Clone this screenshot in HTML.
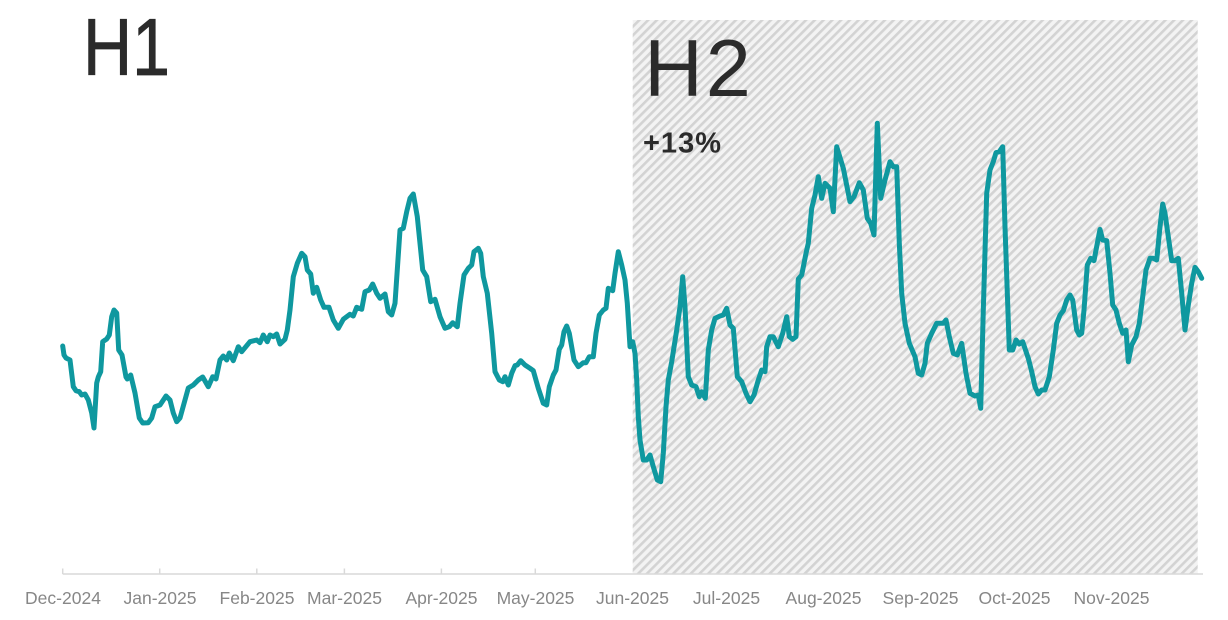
<!DOCTYPE html>
<html>
<head>
<meta charset="utf-8">
<style>
  html, body { margin:0; padding:0; background:#ffffff; }
  svg { display:block; }
</style>
</head>
<body>
<svg width="1228" height="620" viewBox="0 0 1228 620" xmlns="http://www.w3.org/2000/svg">
  <defs>
    <pattern id="hatch" patternUnits="userSpaceOnUse" width="6.2" height="10" patternTransform="rotate(45)">
      <rect x="0" y="0" width="6.2" height="10" fill="#f3f3f3"/>
      <rect x="0" y="0" width="2.6" height="10" fill="#d3d3d3"/>
    </pattern>
  </defs>
  <rect x="0" y="0" width="1228" height="620" fill="#ffffff"/>

  <!-- H2 hatched region -->
  <rect x="632.7" y="20" width="565" height="554" fill="url(#hatch)"/>

  <!-- axis -->
  <line x1="62.7" y1="574" x2="1203" y2="574" stroke="#d9d9d9" stroke-width="1.5"/>
  <g stroke="#d9d9d9" stroke-width="1.5">
    <line x1="62.7" y1="568.5" x2="62.7" y2="574"/>
    <line x1="159.7" y1="568.5" x2="159.7" y2="574"/>
    <line x1="256.8" y1="568.5" x2="256.8" y2="574"/>
    <line x1="344.4" y1="568.5" x2="344.4" y2="574"/>
    <line x1="441.4" y1="568.5" x2="441.4" y2="574"/>
    <line x1="535.3" y1="568.5" x2="535.3" y2="574"/>
  </g>

  <g font-family="'Liberation Sans', sans-serif" font-size="17.5" fill="#878787" text-anchor="middle">
    <text x="63" y="604">Dec-2024</text>
    <text x="160" y="604">Jan-2025</text>
    <text x="257" y="604">Feb-2025</text>
    <text x="344.5" y="604">Mar-2025</text>
    <text x="441.5" y="604">Apr-2025</text>
    <text x="535.5" y="604">May-2025</text>
    <text x="632.5" y="604">Jun-2025</text>
    <text x="726.5" y="604">Jul-2025</text>
    <text x="823.5" y="604">Aug-2025</text>
    <text x="920.5" y="604">Sep-2025</text>
    <text x="1014.5" y="604">Oct-2025</text>
    <text x="1111.5" y="604">Nov-2025</text>
  </g>

  <!-- Titles -->
  <text transform="translate(83,75) scale(0.84,1)" x="0" y="0" font-family="'Liberation Sans', sans-serif" font-size="81" fill="#2b2b2b" stroke="#2b2b2b" stroke-width="0.8">H1</text>
  <text x="644.3" y="96" font-family="'Liberation Sans', sans-serif" font-size="81" fill="#2b2b2b" letter-spacing="3">H2</text>
  <text x="643" y="152.7" font-family="'Liberation Sans', sans-serif" font-size="29" font-weight="bold" fill="#2b2b2b" letter-spacing="1">+13%</text>

  <!-- series -->
  <polyline fill="none" stroke="#0f989f" stroke-width="5" stroke-linejoin="round" stroke-linecap="round"
    points="62.7,346 64,355 66,358 70,360 73.3,386.7 76,390.7 79.3,391.7 81.7,395 85,394 88.3,400 91.7,413 94,428 96.7,383 98.3,377 100.7,371.7 102.7,341.7 106.7,339 109.3,335 111.7,316.7 114,310 116.7,313 118.7,350 122,355 126,377 127.3,379 130.7,375 135,393 139.3,418 142.7,423 148.3,422.7 151.7,418 155,406.7 160,405 166,396 170,400 173.3,413 176.7,421.7 180,418 188.3,388 193.3,385 198.3,380 202.7,377 208.3,386.7 212.7,376.7 216,379 220,360 223.3,356 226.7,360 229.3,353 233.3,360.7 238.3,346.7 241.7,351.7 250,341.7 256.7,340 260,342.7 263.3,335 267.3,341.7 270,335 273.3,336.7 276.7,334 280,344 285,339.3 287.3,330 290,310 293.3,276.7 297.3,263.3 301.7,253.3 305,256.7 307.3,270 310.7,274 313.3,293.3 316.7,287.3 320.7,300 324,307.3 329,307.3 333.3,320 338.3,328.3 343.3,319.3 350,314.3 353.3,316 356.7,307.3 361.7,309.3 365,291.7 369.3,290 372.7,284 376.7,293.3 380,298.3 385,294 388.3,311.7 391.7,315 395,303.3 400,230 403.3,228.3 406.7,211.7 410,198.3 413.3,194 417.3,216.7 422.7,270 426.7,276.7 430.7,301.7 435,299.3 440,316.7 445,328.3 449.3,326.7 452.7,322.7 457.3,326.7 460,303.3 464,275 468.3,268.3 471.7,265 474,251.7 478.3,248.3 480.7,253.3 483.3,276.7 487.3,293.3 491.7,333.3 495,371.7 499.3,380 502.7,381.7 505,376.7 508.3,385 511.7,373.3 515,365.7 517.3,365 520.7,360.7 525,365 530,368.3 533.3,370.7 538.3,388.3 543.3,403.3 546.7,405 549.3,386.7 553.3,375 556,370 559.3,349.3 561.7,345 564,331.7 566.7,326 569.3,333.3 574,360 578.3,366.7 583.3,362.7 586,362.7 589.3,356.7 593.3,356.7 596,333.3 599.3,315 603.3,310 606,308.3 608.3,288.3 612.7,290.7 615,273.3 618.3,251.7 621.7,265 625,280 627.3,303.3 630,346.7 632.7,341.7 635,353.3 636.7,380 638.3,416.7 640,440 643.3,460 646.7,460 650,455 653.3,466.7 657.3,480 660.7,481.7 663.3,453.3 666,406.7 668.3,380 671.7,361.7 676.7,330 680,306.7 682.7,276.7 685,306.7 688.3,376.7 691.7,385 696,386.7 699.3,396.7 701.7,391.7 705.3,398.3 708.3,350 711.7,330 715,318.3 720,316 723.3,315 726.7,308.3 730,325 733.3,328.3 737.3,376.7 741.7,381.7 746,393.3 750,401.7 754,395 758.3,380 761.7,370 765,371.7 766.7,346.7 770,336.7 773.3,336.7 778.3,346.7 782.7,333.3 786.7,316.7 789.3,336.7 792.7,339.3 796,336.7 798.3,279 801.7,275 806,253.3 808.3,243.3 811.7,208.3 815,195 818.3,176.7 821.7,198.3 825,183.3 830,188.3 833.3,211.7 836.7,146.7 843.3,168.3 850,201.7 854,196.7 859.3,182.7 863.3,190 867.3,218.3 870.7,223.3 874,235 877.3,123.3 880.7,198.3 885,180 890,161.7 893.3,166.7 896.7,166.7 899.3,243.3 901.7,293.3 905,323.3 909.3,343.3 915,356.7 918.3,373.3 921.7,375 925,363.3 927.3,343.3 931.7,333.3 936.7,323.3 943.3,323.3 946,320 949.3,336.7 953.3,353.3 957.3,355 961.7,343.3 966,373.3 970,393.3 975,396 978.3,395 980.7,408.3 983.3,310 986.7,193.3 990,170 993.3,161.7 996,152.7 999.3,151.7 1002.7,146.7 1005,226.7 1009.3,350 1012.7,350 1016,340 1019.3,344 1022.7,341.7 1028.3,358.3 1031.7,371.7 1035,386.7 1038.3,394 1041.7,390 1045,390 1049.3,376.7 1053.3,350 1056.7,323.3 1060,315 1063.3,310.7 1066.7,300 1070,295 1072.7,300 1076.7,330 1079.3,335 1081.7,333.3 1084,310 1087.3,265 1090.7,258.3 1094,260.7 1097.3,243.3 1100,229.3 1102.7,240 1106.7,240.7 1110,273.3 1112.7,305 1116,310 1119.3,323.3 1122.7,333.3 1126,330 1128.3,361.7 1131.7,345 1136,336.7 1139.3,323.3 1142.7,296.7 1146,270 1150,258.3 1153.3,258.3 1156.7,260 1160,226.7 1162.7,204 1165,213.3 1168.3,236.7 1171.7,260.7 1175,260.7 1178.3,258.3 1181.7,293.3 1185,330 1188.3,305 1191.7,283.3 1195,267.3 1198.3,271.7 1201.7,278.3"/>
</svg>
</body>
</html>
